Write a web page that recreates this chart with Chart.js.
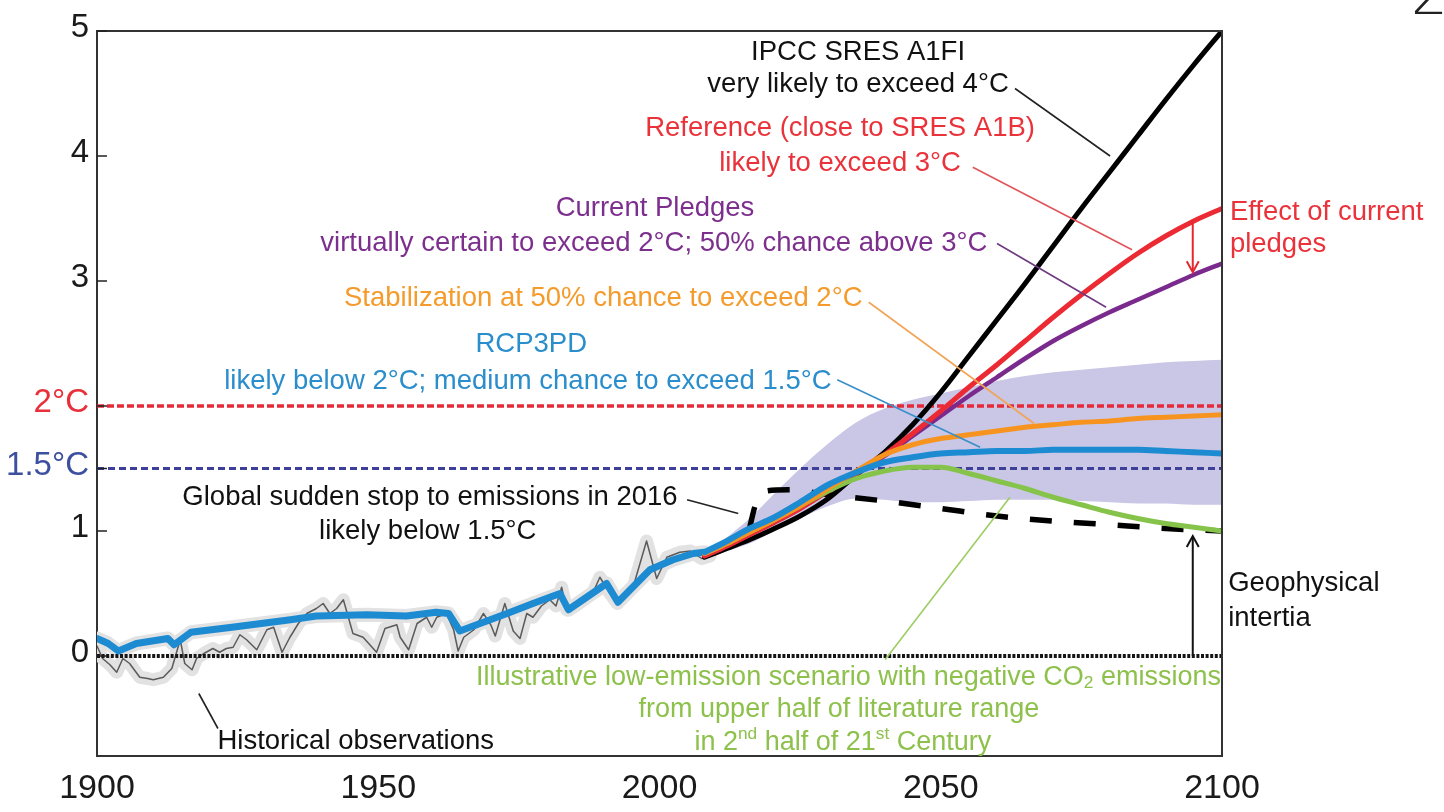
<!DOCTYPE html>
<html>
<head>
<meta charset="utf-8">
<script src="https://cdn.jsdelivr.net/npm/chart.js@4.4.1/dist/chart.umd.min.js"></script>
<style>
html,body{margin:0;padding:0;background:#fff;}
#wrap{position:relative;width:1444px;height:812px;overflow:hidden;}
canvas{display:block;}
#pg{position:absolute;left:1411px;top:-35px;font:300 58px "DejaVu Sans",sans-serif;line-height:1;color:#222;}
</style>
</head>
<body>
<div id="wrap"><canvas id="c" width="1444" height="812"></canvas><div id="pg">2</div></div>
<script>
// ---------------- data ----------------
const scenarioYears = [2008, 2012, 2016, 2020, 2025, 2030, 2035, 2040, 2045, 2050, 2055, 2060, 2065, 2070, 2075, 2080, 2085, 2090, 2095, 2100];
const sresA1FI      = [0.79, 0.86, 0.93, 1.01, 1.12, 1.26, 1.45, 1.63, 1.85, 2.11, 2.40, 2.69, 2.98, 3.28, 3.58, 3.87, 4.16, 4.45, 4.73, 5.00];
const reference     = [0.80, 0.88, 0.97, 1.06, 1.18, 1.32, 1.46, 1.61, 1.78, 1.96, 2.15, 2.33, 2.52, 2.71, 2.89, 3.06, 3.22, 3.36, 3.48, 3.58];
const currentPledges= [0.80, 0.88, 0.97, 1.06, 1.18, 1.32, 1.46, 1.60, 1.76, 1.92, 2.08, 2.23, 2.38, 2.52, 2.64, 2.75, 2.85, 2.95, 3.05, 3.14];
const stabilization = [0.82, 0.90, 0.99, 1.08, 1.20, 1.34, 1.48, 1.61, 1.69, 1.74, 1.77, 1.80, 1.83, 1.85, 1.87, 1.88, 1.90, 1.91, 1.92, 1.93];
const rcp3pd        = [0.83, 0.92, 1.02, 1.10, 1.23, 1.37, 1.47, 1.55, 1.59, 1.62, 1.63, 1.64, 1.64, 1.65, 1.65, 1.65, 1.65, 1.64, 1.63, 1.62];
const lowEmission   = [0.82, 0.90, 0.99, 1.08, 1.20, 1.32, 1.42, 1.48, 1.51, 1.51, 1.46, 1.40, 1.34, 1.27, 1.21, 1.15, 1.10, 1.06, 1.03, 1.00];
const rangeUpper    = [0.80, 0.95, 1.10, 1.28, 1.50, 1.70, 1.87, 1.98, 2.05, 2.10, 2.15, 2.20, 2.24, 2.27, 2.29, 2.31, 2.33, 2.35, 2.36, 2.37];
const rangeLower    = [0.77, 0.84, 0.90, 0.99, 1.10, 1.20, 1.26, 1.25, 1.23, 1.23, 1.24, 1.25, 1.25, 1.25, 1.24, 1.23, 1.22, 1.22, 1.21, 1.21];

const stopYears  = [2016, 2017, 2019, 2023, 2030, 2040, 2050, 2060, 2070, 2080, 2090, 2100];
const stopValues = [1.02, 1.20, 1.32, 1.33, 1.29, 1.24, 1.18, 1.12, 1.08, 1.05, 1.02, 1.00];

const obsYears  = [1900, 1901, 1902.3, 1903.5, 1904.6, 1905.8, 1907.6, 1909, 1910, 1911.8, 1913.3, 1914.8, 1915.6, 1916.9, 1917.7, 1919, 1920.6, 1921.8, 1923, 1924.2, 1925.4, 1926.6, 1928.4, 1930.2, 1931.4, 1932.9, 1934.3, 1935.8, 1937.3, 1939, 1940.2, 1941.4, 1942.6, 1943.8, 1945.5, 1947.3, 1949.7, 1951.2, 1953.3, 1953.9, 1955.4, 1956.9, 1958.6, 1959.5, 1960.4, 1962.1, 1963.4, 1964.2, 1965.2, 1967, 1968.7, 1970, 1970.8, 1972.5, 1974, 1975.2, 1976.4, 1977.5, 1979, 1980.5, 1981.6, 1982.6, 1983.5, 1985, 1986.5, 1988.2, 1989.4, 1991.2, 1992.5, 1994, 1995.3, 1997.7, 1999.5, 2001.3, 2003.6, 2005.5, 2007.5, 2009];
const obsValues = [0.08, -0.02, -0.07, -0.13, -0.02, -0.06, -0.17, -0.18, -0.19, -0.17, -0.10, 0.13, -0.06, -0.11, -0.02, 0.02, 0.06, 0.03, 0.06, 0.07, 0.17, 0.13, 0.05, 0.21, 0.23, 0.03, 0.15, 0.26, 0.34, 0.38, 0.42, 0.34, 0.38, 0.45, 0.18, 0.15, 0.03, 0.22, 0.25, 0.15, 0.05, 0.26, 0.31, 0.23, 0.31, 0.34, 0.21, 0.04, 0.15, 0.21, 0.34, 0.25, 0.16, 0.42, 0.20, 0.14, 0.34, 0.31, 0.40, 0.45, 0.40, 0.55, 0.37, 0.40, 0.45, 0.51, 0.63, 0.50, 0.42, 0.50, 0.55, 0.92, 0.62, 0.79, 0.83, 0.84, 0.78, 0.80];

const histYears  = [1900, 1902, 1903.8, 1907, 1912.6, 1913.7, 1916.7, 1924, 1934.4, 1939, 1948, 1955, 1960.3, 1962.5, 1964.5, 1969.3, 1972.9, 1977.5, 1982.3, 1983.8, 1990.6, 1992.6, 1998.3, 2002.4, 2006, 2008];
const histValues = [0.14, 0.10, 0.04, 0.10, 0.14, 0.09, 0.19, 0.23, 0.29, 0.32, 0.33, 0.32, 0.35, 0.34, 0.20, 0.28, 0.34, 0.42, 0.50, 0.37, 0.58, 0.43, 0.69, 0.77, 0.82, 0.83];

const thresholds = [0, 1.5, 2];
const xTicks = [1900, 1950, 2000, 2050, 2100];
const yTicks = [0, 1, 1.5, 2, 3, 4, 5];
const yTickLabels = ['0', '1', '1.5°C', '2°C', '3', '4', '5'];

// ---------------- helpers ----------------
const pts = (xs, ys) => xs.map((x, i) => ({x: x, y: ys[i]}));
const FONT = '"Liberation Sans", Arial, Helvetica, sans-serif';
const C = {
  black: '#111111', red: '#ec2a33', purple: '#7a2a8c', orange: '#f7941f',
  blue: '#1d8bd1', green: '#86c34a', band: '#c9c6e6', grey: '#e2e2e2'
};
const line = (data, color, width, order, extra) => Object.assign({
  data: data, borderColor: color, borderWidth: width, pointRadius: 0,
  fill: false, order: order, cubicInterpolationMode: 'monotone', borderCapStyle: 'round', borderJoinStyle: 'round'
}, extra || {});
const span = v => [{x: xTicks[0], y: v}, {x: xTicks[xTicks.length - 1], y: v}];

// annotation anchors in data coordinates (year, °C)
const notes = [
  {segs: [{t: 'IPCC SRES A1FI'}], x: 2035.3, y: 4.83, c: '#111'},
  {segs: [{t: 'very likely to exceed 4°C'}], x: 2035.3, y: 4.57, c: '#111'},
  {segs: [{t: 'Reference (close to SRES A1B)'}], x: 2032.1, y: 4.22, c: '#ea323a'},
  {segs: [{t: 'likely to exceed 3°C'}], x: 2032.1, y: 3.94, c: '#ea323a'},
  {segs: [{t: 'Current Pledges'}], x: 1999.2, y: 3.58, c: '#7d2f8e'},
  {segs: [{t: 'virtually certain to exceed 2°C; 50% chance above 3°C'}], x: 1999.0, y: 3.30, c: '#7d2f8e'},
  {segs: [{t: 'Stabilization at 50% chance to exceed 2°C'}], x: 1990.0, y: 2.86, c: '#f59b2c'},
  {segs: [{t: 'RCP3PD'}], x: 1977.2, y: 2.49, c: '#2a8dcc'},
  {segs: [{t: 'likely below 2°C; medium chance to exceed 1.5°C'}], x: 1976.6, y: 2.20, c: '#2a8dcc'},
  {segs: [{t: 'Global sudden stop to emissions in 2016'}], x: 1959.2, y: 1.27, c: '#111'},
  {segs: [{t: 'likely below 1.5°C'}], x: 1958.8, y: 1.00, c: '#111'},
  {segs: [{t: 'Historical observations'}], x: 1946.0, y: -0.68, c: '#111'},
  {segs: [{t: 'Illustrative low-emission scenario with negative CO'}, {t: '2', sub: true}, {t: ' emissions'}], x: 2033.6, y: -0.17, c: '#8dc14b', size: 27},
  {segs: [{t: 'from upper half of literature range'}], x: 2031.9, y: -0.43, c: '#8dc14b', size: 27},
  {segs: [{t: 'in 2'}, {t: 'nd', sup: true}, {t: ' half of 21'}, {t: 'st', sup: true}, {t: ' Century'}], x: 2032.6, y: -0.69, c: '#8dc14b', size: 27},
  {segs: [{t: 'Effect of current'}], x: 2101.4, y: 3.55, c: '#ea323a', left: true},
  {segs: [{t: 'pledges'}], x: 2101.4, y: 3.29, c: '#ea323a', left: true},
  {segs: [{t: 'Geophysical'}], x: 2101.1, y: 0.58, c: '#111', left: true},
  {segs: [{t: 'intertia'}], x: 2101.1, y: 0.30, c: '#111', left: true}
];
const leaders = [
  {a: [2063.2, 4.54], b: [2080.1, 4.00], c: '#222'},
  {a: [2055.7, 3.91], b: [2084.0, 3.25], c: '#e0545a'},
  {a: [2060.0, 3.30], b: [2079.4, 2.79], c: '#6e3a82'},
  {a: [2037.2, 2.83], b: [2066.6, 1.86], c: '#f2a456'},
  {a: [2031.6, 2.21], b: [2057.0, 1.67], c: '#3a8fc8'},
  {a: [2004.9, 1.25], b: [2014.0, 1.14], c: '#222'},
  {a: [2062.3, 1.27], b: [2040.1, -0.03], c: '#9ccc62'},
  {a: [1918.1, -0.30], b: [1921.5, -0.58], c: '#222'}
];
const arrows = [
  {x: 2094.8, from: 0.0, to: 0.96, c: '#111'},
  {x: 2094.8, from: 3.47, to: 3.07, c: '#e8262f'}
];

// ---------------- plugin for frame, ticks, leaders, arrows, notes ----------------
const decor = {
  id: 'decor',
  afterDatasetsDraw(chart) {
    const ctx = chart.ctx, xs = chart.scales.x, ys = chart.scales.y, a = chart.chartArea;
    ctx.save();
    ctx.strokeStyle = '#333'; ctx.lineWidth = 2;
    ctx.beginPath();
    ctx.moveTo(a.left, a.top); ctx.lineTo(a.right, a.top); ctx.lineTo(a.right, a.bottom);
    ctx.stroke();
    ctx.lineWidth = 1.5; ctx.strokeStyle = '#222';
    yTicks.forEach(v => { const py = ys.getPixelForValue(v); ctx.beginPath(); ctx.moveTo(a.left, py); ctx.lineTo(a.left + 10, py); ctx.stroke(); });
    ctx.lineWidth = 1.6;
    leaders.forEach(l => {
      ctx.strokeStyle = l.c; ctx.beginPath();
      ctx.moveTo(xs.getPixelForValue(l.a[0]), ys.getPixelForValue(l.a[1]));
      ctx.lineTo(xs.getPixelForValue(l.b[0]), ys.getPixelForValue(l.b[1]));
      ctx.stroke();
    });
    arrows.forEach(r => {
      const px = xs.getPixelForValue(r.x), y0 = ys.getPixelForValue(r.from), y1 = ys.getPixelForValue(r.to);
      const dir = y1 < y0 ? -1 : 1;
      ctx.strokeStyle = r.c; ctx.lineWidth = 2;
      ctx.beginPath(); ctx.moveTo(px, y0); ctx.lineTo(px, y1 - dir * 2); ctx.stroke();
      ctx.beginPath(); ctx.moveTo(px - 6, y1 - dir * 11); ctx.lineTo(px, y1); ctx.lineTo(px + 6, y1 - dir * 11); ctx.stroke();
    });
    ctx.restore();
  },
  afterDraw(chart) {
    const ctx = chart.ctx, xs = chart.scales.x, ys = chart.scales.y;
    ctx.save();
    ctx.textBaseline = 'middle'; ctx.textAlign = 'left';
    notes.forEach(n => {
      const size = n.size || 27.5;
      let w = 0;
      n.segs.forEach(s => {
        const fs = (s.sub || s.sup) ? size * 0.64 : size;
        ctx.font = fs + 'px ' + FONT;
        s.w = ctx.measureText(s.t).width; w += s.w;
      });
      const px = xs.getPixelForValue(n.x), py = ys.getPixelForValue(n.y);
      let sx = n.left ? px : px - w / 2;
      ctx.fillStyle = n.c;
      n.segs.forEach(s => {
        const fs = (s.sub || s.sup) ? size * 0.64 : size;
        ctx.font = fs + 'px ' + FONT;
        const dy = s.sup ? -size * 0.3 : (s.sub ? size * 0.22 : 0);
        ctx.fillText(s.t, sx, py + dy); sx += s.w;
      });
    });
    ctx.restore();
  }
};

// ---------------- chart ----------------
const datasets = [
  line(pts(scenarioYears, rangeUpper), 'rgba(0,0,0,0)', 0, 30, {fill: '+1', backgroundColor: C.band}),
  line(pts(scenarioYears, rangeLower), 'rgba(0,0,0,0)', 0, 29),
  line(pts(obsYears, obsValues), C.grey, 13, 28, {cubicInterpolationMode: 'default', tension: 0}),
  line(pts(histYears, histValues), C.grey, 14, 27, {cubicInterpolationMode: 'default', tension: 0}),
  line(pts(obsYears, obsValues), '#5a5a5a', 1.5, 26, {cubicInterpolationMode: 'default', tension: 0}),
  line(span(thresholds[0]), '#151515', 4, 25, {borderDash: [3, 1.6], borderCapStyle: 'butt'}),
  line(span(thresholds[1]), '#3d3f99', 3, 24, {borderDash: [7, 4], borderCapStyle: 'butt'}),
  line(span(thresholds[2]), '#e62a3a', 3.5, 23, {borderDash: [7, 3], borderCapStyle: 'butt'}),
  line(pts(histYears, histValues), C.blue, 7, 22, {cubicInterpolationMode: 'default', tension: 0}),
  line(pts(stopYears, stopValues), '#000', 5.5, 21, {borderDash: [22, 22], borderCapStyle: 'butt'}),
  line(pts(scenarioYears, sresA1FI), '#000', 5, 20),
  line(pts(scenarioYears, currentPledges), C.purple, 4.5, 19),
  line(pts(scenarioYears, reference), C.red, 5, 18),
  line(pts(scenarioYears, lowEmission), C.green, 5, 17),
  line(pts(scenarioYears, stabilization), C.orange, 5, 16),
  line(pts(scenarioYears, rcp3pd), C.blue, 6, 15)
];

new Chart(document.getElementById('c'), {
  type: 'line',
  data: {datasets: datasets},
  plugins: [decor],
  options: {
    responsive: false,
    animation: false,
    events: [],
    layout: {padding: {top: 31, right: 222, left: 0, bottom: 0}},
    plugins: {legend: {display: false}, tooltip: {enabled: false}},
    scales: {
      x: {
        type: 'linear', min: xTicks[0], max: xTicks[xTicks.length - 1],
        afterBuildTicks: s => { s.ticks = xTicks.map(v => ({value: v})); },
        afterFit: s => { s.height = 56; },
        grid: {display: true, drawOnChartArea: false, drawTicks: false, color: 'rgba(0,0,0,0)'},
        border: {display: true, color: '#333', width: 2},
        ticks: {callback: v => String(v), color: '#1a1a1a', font: {family: FONT, size: 34}, padding: 12, maxRotation: 0, autoSkip: false}
      },
      y: {
        type: 'linear', min: -0.8, max: 5,
        afterBuildTicks: s => { s.ticks = yTicks.map(v => ({value: v})); },
        afterFit: s => { s.width = 97; },
        grid: {display: true, drawOnChartArea: false, drawTicks: false, color: 'rgba(0,0,0,0)'},
        border: {display: true, color: '#333', width: 2},
        ticks: {
          callback: v => { const i = yTicks.indexOf(v); return i >= 0 ? yTickLabels[i] : ''; },
          color: c => c.tick && c.tick.value === 2 ? '#e8303a' : (c.tick && c.tick.value === 1.5 ? '#3d4f9f' : '#1a1a1a'),
          font: {family: FONT, size: 33}, padding: 8, labelOffset: -3, autoSkip: false
        }
      }
    }
  }
});
</script>
</body>
</html>
